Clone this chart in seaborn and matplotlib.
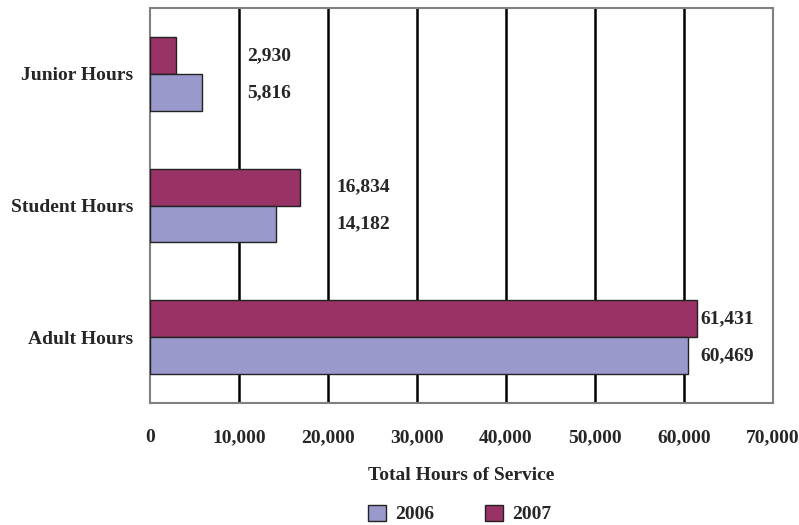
import pandas as pd
import seaborn as sns
import matplotlib.pyplot as plt
from matplotlib.patches import Patch
from matplotlib.ticker import FuncFormatter, FixedLocator

# -------------------------------
# Data
# -------------------------------
categories = ["Junior Hours", "Student Hours", "Adult Hours"]
hours_2006 = [5816, 14182, 60469]
hours_2007 = [2930, 16834, 61431]
years = ["2006", "2007"]

# x position (data units) where Excel put the value labels
label_x = [10900, 21000, 61800]

df = pd.DataFrame({
    "category": categories * 2,
    "hours": hours_2006 + hours_2007,
    "year": ["2006"] * 3 + ["2007"] * 3,
})

colors = {"2006": "#9999CC", "2007": "#993366"}

sns.set_style("white")
plt.rcParams["font.family"] = ["Liberation Serif", "DejaVu Serif"]
plt.rcParams["font.weight"] = "bold"
fs = 14

fig = plt.figure(figsize=(7.99, 5.25), dpi=100)
ax = fig.add_axes([150 / 799, 1 - 403 / 525, 623 / 799, 395 / 525])

sns.barplot(data=df, y="category", x="hours", hue="year", order=categories,
            hue_order=["2007", "2006"], palette=colors, saturation=1, orient="h",
            width=0.56, edgecolor="#222222", linewidth=1.0, ax=ax, legend=False,
            zorder=3)

ax.set_xlim(0, 70000)
ax.set_ylim(2.5, -0.5)
ax.set_xticks(range(0, 70001, 10000))
ax.xaxis.set_major_formatter(FuncFormatter(lambda v, p: f"{int(v):,}"))

# vertical gridlines
for v in range(10000, 70000, 10000):
    ax.axvline(v, color="black", lw=1.8, zorder=1)

# y ticks at category borders
ax.yaxis.set_minor_locator(FixedLocator([-0.5, 0.5, 1.5, 2.5]))
ax.tick_params(axis="y", which="major", length=0, pad=12, labelsize=fs)
ax.tick_params(axis="y", which="minor", length=4, color="#808080", width=1)
ax.tick_params(axis="x", which="major", length=4, color="#808080", width=1,
               pad=15, labelsize=fs)
ax.set_ylabel("")
ax.set_xlabel("Total Hours of Service", fontsize=fs, fontweight="bold", labelpad=15)

for s in ax.spines.values():
    s.set_visible(True)
    s.set_color("#808080")
    s.set_linewidth(1.5)

# value labels
for i in range(len(categories)):
    ax.text(label_x[i], i - 0.14, f"{hours_2007[i]:,}", va="center", ha="left",
            fontsize=fs, fontweight="bold", zorder=4)
    ax.text(label_x[i], i + 0.14, f"{hours_2006[i]:,}", va="center", ha="left",
            fontsize=fs, fontweight="bold", zorder=4)

handles = [Patch(facecolor=colors[y], edgecolor="#222222", label=y) for y in years]
fig.legend(handles=handles, loc="center", bbox_to_anchor=(460 / 799, 1 - 514 / 525),
           ncol=2, frameon=False, fontsize=fs, handlelength=0.9, handleheight=0.9,
           columnspacing=2.6, handletextpad=0.5)

fig.savefig("out.png", dpi=100)
